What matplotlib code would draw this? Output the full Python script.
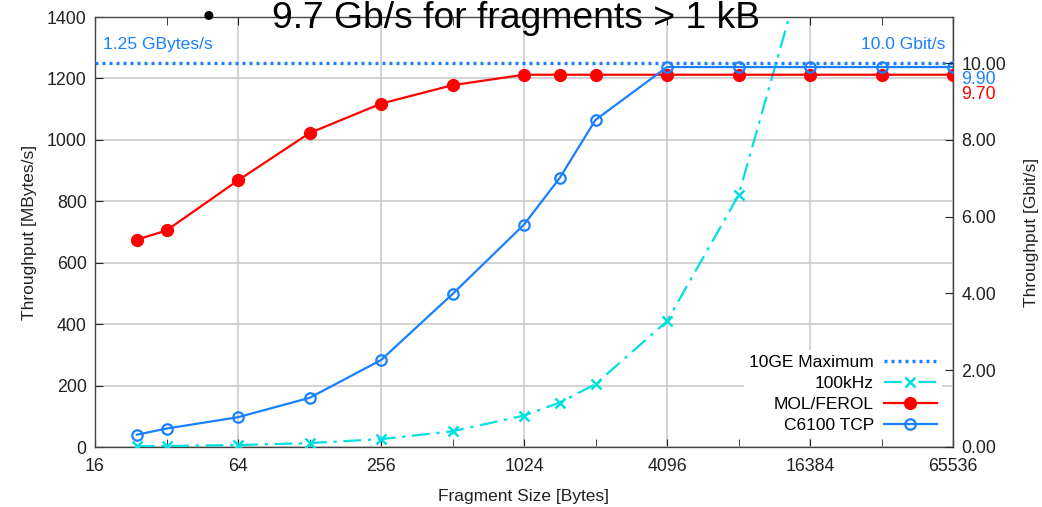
import matplotlib
matplotlib.use("Agg")
import matplotlib.pyplot as plt
from matplotlib.ticker import FixedLocator, NullFormatter

plt.rcParams['font.family'] = ['Liberation Sans', 'DejaVu Sans']

# ---- data ----
sizes = [24, 32, 64, 128, 256, 512, 1024, 1448, 2048, 4096, 8192, 16384, 32768, 65536]
mol_ferol = [675, 705, 868, 1022, 1118, 1178, 1212, 1212, 1212, 1212, 1212, 1212, 1212, 1212]
c6100_tcp = [40, 60, 97, 160, 283, 498, 724, 876, 1065, 1237, 1237, 1237, 1237, 1237]
khz100_sizes = [24, 32, 64, 128, 256, 512, 1024, 1448, 2048, 4096, 8192, 16384]
khz100 = [2.4, 3.2, 6.4, 12.8, 25.6, 51.2, 102.4, 144.8, 204.8, 409.6, 819.2, 1638.4]
max_10ge = 1250
xticks_major = [16, 64, 256, 1024, 4096, 16384, 65536]
xticks_minor = [32, 128, 512, 2048, 8192, 32768]
yticks_left = [0, 200, 400, 600, 800, 1000, 1200, 1400]
yticks_right = [0, 2, 4, 6, 8, 10]

BLUE = '#1a80ff'
CYAN = '#00e0e0'
RED = '#ff0000'
TICKFS = 12.8
LABFS = 12.5

fig = plt.figure(figsize=(10.42, 5.07), dpi=100)
ax = fig.add_axes([95/1042, 1 - 447/507, (953 - 95)/1042, (447 - 17)/507])

ax.set_xscale('log', base=2)
ax.set_xlim(16, 65536)
ax.set_ylim(0, 1400)

l1, = ax.plot([16, 65536], [max_10ge, max_10ge], color=BLUE, lw=2.4,
              linestyle=(0, (0.9, 1.2)), label='10GE Maximum', zorder=3)
l2, = ax.plot(khz100_sizes, khz100, color=CYAN, lw=1.6, linestyle=(0, (8, 3, 1.5, 3)),
              marker='x', markersize=7, markeredgewidth=1.8, label='100kHz', zorder=4)
l3, = ax.plot(sizes, mol_ferol, color=RED, lw=1.6, marker='o', markersize=8.5,
              label='MOL/FEROL', zorder=5)
l4, = ax.plot(sizes, c6100_tcp, color=BLUE, lw=1.6, marker='o', markersize=7.5,
              markerfacecolor='none', markeredgewidth=1.6, label='C6100 TCP', zorder=6)

ax.xaxis.set_major_locator(FixedLocator(xticks_major))
ax.xaxis.set_minor_locator(FixedLocator(xticks_minor))
ax.xaxis.set_minor_formatter(NullFormatter())
ax.set_xticklabels([str(v) for v in xticks_major])
ax.set_yticks(yticks_left)
ax.set_yticklabels([str(v) for v in yticks_left])

ax.tick_params(axis='both', which='both', direction='in', top=True, right=True,
               labelsize=TICKFS, colors='#222222', length=6)
ax.tick_params(axis='x', which='major', pad=8)
ax.tick_params(axis='y', which='major', pad=6)
ax.grid(True, which='major', color='#c8c8c8', lw=1.1, zorder=0)
for s in ax.spines.values():
    s.set_color('#444444')
    s.set_linewidth(1.0)

ax.set_xlabel('Fragment Size [Bytes]', fontsize=LABFS, labelpad=10, color='#222222')
ax.set_ylabel('Throughput [MBytes/s]', fontsize=LABFS, labelpad=7, color='#222222')

# right axis in Gbit/s
ax2 = ax.twinx()
ax2.set_ylim(0, 1400 * 8 / 1000)
ax2.set_yticks(yticks_right)
ax2.set_yticklabels([f'{v:.2f}' for v in yticks_right])
ax2.tick_params(axis='y', direction='in', labelsize=TICKFS, colors='#222222', length=6, pad=6)
for s in ax2.spines.values():
    s.set_visible(False)
ax2.set_ylabel('Throughput [Gbit/s]', fontsize=LABFS, labelpad=13, color='#222222')
ax2.annotate('9.90', xy=(1.0, 9.9), xycoords=('axes fraction', 'data'),
             xytext=(8, -13), textcoords='offset pixels', color=BLUE,
             fontsize=TICKFS, va='center', ha='left')
ax2.annotate('9.70', xy=(1.0, 9.7), xycoords=('axes fraction', 'data'),
             xytext=(8, -20), textcoords='offset pixels', color=RED,
             fontsize=TICKFS, va='center', ha='left')

ax.text(0.009, 1310, '1.25 GBytes/s', transform=ax.get_yaxis_transform(),
        color=BLUE, fontsize=12.6, va='center', ha='left')
ax.text(0.991, 1310, '10.0 Gbit/s', transform=ax.get_yaxis_transform(),
        color=BLUE, fontsize=12.6, va='center', ha='right')

leg = ax.legend(handles=[l1, l2, l3, l4], loc='lower right', bbox_to_anchor=(0.997, 0.0),
                markerfirst=False, frameon=True, fontsize=12.5, handlelength=3.0,
                labelspacing=0.33, borderpad=0.3, handletextpad=0.6)
leg.get_frame().set_facecolor('white')
leg.get_frame().set_edgecolor('none')
leg.get_frame().set_alpha(1)
leg.set_zorder(10)

# slide overlay text
fig.text(208/1042, 1 - 19/507, '\u2022', fontsize=24, ha='center', va='center', color='black')
fig.text(272/1042, 1 - 18/507, '9.7 Gb/s for fragments > 1 kB', fontsize=26.8,
         ha='left', va='center', color='black')

fig.savefig('out.png', dpi=100)
